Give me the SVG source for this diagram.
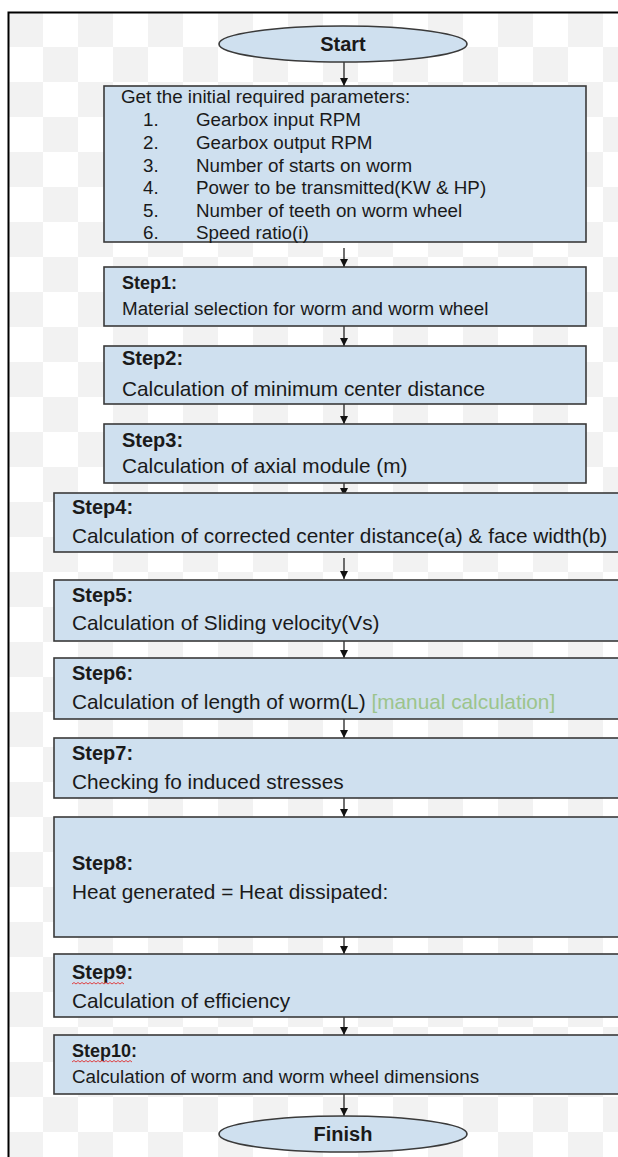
<svg xmlns="http://www.w3.org/2000/svg" width="618" height="1157" viewBox="0 0 618 1157">
<style>
.box{fill:#cfe0ef;stroke:#3a3a3a;stroke-width:1.6}
.t{font-family:"Liberation Sans",Arial,sans-serif;fill:#1a1a1a}
.lbl{font-weight:bold}
.s18{font-size:18px}.s19{font-size:18.8px}.s20{font-size:20px}.s21{font-size:20.8px}
.con{stroke:#111;stroke-width:1.2;fill:none}
.sq{stroke:#e03030;stroke-width:0.9;fill:none}
</style>
<defs>
<pattern id="chk" x="8" y="12" width="70" height="70" patternUnits="userSpaceOnUse">
<rect width="70" height="70" fill="#ffffff"/>
<rect width="35" height="35" fill="#f2f2f2"/>
<rect x="35" y="35" width="35" height="35" fill="#f2f2f2"/>
</pattern>
<marker id="ah" viewBox="0 0 10 10" refX="10" refY="5" markerWidth="8" markerHeight="9" markerUnits="userSpaceOnUse" orient="auto">
<path d="M0,0 L10,5 L0,10 z" fill="#111"/>
</marker>
</defs>
<rect width="618" height="1157" fill="#ffffff"/>
<rect x="9" y="13" width="609" height="1144" fill="url(#chk)"/>
<path d="M8.5,1157 V12.5 H618" stroke="#000" stroke-width="2" fill="none"/>

<g id="connectors">
<line class="con" x1="344" y1="62" x2="344" y2="86" marker-end="url(#ah)"/>
<line class="con" x1="344" y1="248" x2="344" y2="267" marker-end="url(#ah)"/>
<line class="con" x1="344" y1="326" x2="344" y2="346" marker-end="url(#ah)"/>
<line class="con" x1="344" y1="404" x2="344" y2="424" marker-end="url(#ah)"/>
<line class="con" x1="344" y1="483" x2="344" y2="496" marker-end="url(#ah)"/>
<line class="con" x1="344" y1="558" x2="344" y2="579" marker-end="url(#ah)"/>
<line class="con" x1="344" y1="641" x2="344" y2="658" marker-end="url(#ah)"/>
<line class="con" x1="344" y1="719" x2="344" y2="738" marker-end="url(#ah)"/>
<line class="con" x1="344" y1="798" x2="344" y2="817" marker-end="url(#ah)"/>
<line class="con" x1="344" y1="937" x2="344" y2="954" marker-end="url(#ah)"/>
<line class="con" x1="344" y1="1017" x2="344" y2="1035" marker-end="url(#ah)"/>
<line class="con" x1="344" y1="1094" x2="344" y2="1116" marker-end="url(#ah)"/>
</g>

<g id="start">
<ellipse class="box" cx="343" cy="44" rx="124" ry="18"/>
<text class="t lbl s20" x="343" y="51" text-anchor="middle">Start</text>
</g>

<g id="params">
<rect class="box" x="104" y="86" width="482" height="156"/>
<text class="t s19" x="121" y="103">Get the initial required parameters:</text>
<text class="t s19" x="143" y="126">1.</text><text class="t s19" x="196" y="126">Gearbox input RPM</text>
<text class="t s19" x="143" y="149">2.</text><text class="t s19" x="196" y="149">Gearbox output RPM</text>
<text class="t s19" x="143" y="172">3.</text><text class="t s19" x="196" y="172">Number of starts on worm</text>
<text class="t s19" x="143" y="194">4.</text><text class="t s19" x="196" y="194">Power to be transmitted(KW &amp; HP)</text>
<text class="t s19" x="143" y="217">5.</text><text class="t s19" x="196" y="217">Number of teeth on worm wheel</text>
<text class="t s19" x="143" y="239">6.</text><text class="t s19" x="196" y="239">Speed ratio(i)</text>
</g>

<g id="step1">
<rect class="box" x="104" y="267" width="482" height="59"/>
<text class="t lbl s18" x="122" y="289">Step1:</text>
<text class="t s19" x="122" y="315">Material selection for worm and worm wheel</text>
</g>

<g id="step2">
<rect class="box" x="104" y="346" width="482" height="58"/>
<text class="t lbl s20" x="122" y="365">Step2:</text>
<text class="t s21" x="122" y="396">Calculation of minimum center distance</text>
</g>

<g id="step3">
<rect class="box" x="104" y="424" width="482" height="59"/>
<text class="t lbl s20" x="122" y="447">Step3:</text>
<text class="t s21" x="122" y="473">Calculation of axial module (m)</text>
</g>

<g id="step4">
<rect class="box" x="54" y="493" width="600" height="59"/>
<text class="t lbl s20" x="72" y="514">Step4:</text>
<text class="t s21" x="72" y="543">Calculation of corrected center distance(a) &amp; face width(b)</text>
</g>

<g id="step5">
<rect class="box" x="54" y="580" width="600" height="61"/>
<text class="t lbl s20" x="72" y="602">Step5:</text>
<text class="t s21" x="72" y="630">Calculation of Sliding velocity(Vs)</text>
</g>

<g id="step6">
<rect class="box" x="54" y="658" width="600" height="61"/>
<text class="t lbl s20" x="72" y="680">Step6:</text>
<text class="t s21" x="72" y="709">Calculation of length of worm(L) <tspan fill="#9cc48c">[manual calculation]</tspan></text>
</g>

<g id="step7">
<rect class="box" x="54" y="738" width="600" height="60"/>
<text class="t lbl s20" x="72" y="760">Step7:</text>
<text class="t s21" x="72" y="789">Checking fo induced stresses</text>
</g>

<g id="step8">
<rect class="box" x="54" y="817" width="600" height="120"/>
<text class="t lbl s20" x="72" y="870">Step8:</text>
<text class="t s21" x="72" y="899">Heat generated = Heat dissipated:</text>
</g>

<g id="step9">
<rect class="box" x="54" y="954" width="600" height="63"/>
<text class="t lbl s20" x="72" y="979">Step9:</text>
<path class="sq" d="M72,984 l2,-1.5 l2,1.5 l2,-1.5 l2,1.5 l2,-1.5 l2,1.5 l2,-1.5 l2,1.5 l2,-1.5 l2,1.5 l2,-1.5 l2,1.5 l2,-1.5 l2,1.5 l2,-1.5 l2,1.5 l2,-1.5 l2,1.5 l2,-1.5 l2,1.5 l2,-1.5 l2,1.5 l2,-1.5 l2,1.5 l2,-1.5 l2,1.5"/>
<text class="t s21" x="72" y="1008">Calculation of efficiency</text>
</g>

<g id="step10">
<rect class="box" x="54" y="1035" width="600" height="59"/>
<text class="t lbl s18" x="72" y="1057">Step10:</text>
<path class="sq" d="M72,1062 l2,-1.5 l2,1.5 l2,-1.5 l2,1.5 l2,-1.5 l2,1.5 l2,-1.5 l2,1.5 l2,-1.5 l2,1.5 l2,-1.5 l2,1.5 l2,-1.5 l2,1.5 l2,-1.5 l2,1.5 l2,-1.5 l2,1.5 l2,-1.5 l2,1.5 l2,-1.5 l2,1.5 l2,-1.5 l2,1.5 l2,-1.5 l2,1.5 l2,-1.5 l2,1.5 l2,-1.5 l2,1.5"/>
<text class="t s19" x="72" y="1083">Calculation of worm and worm wheel dimensions</text>
</g>

<g id="finish">
<ellipse class="box" cx="343" cy="1134" rx="124" ry="18"/>
<text class="t lbl s20" x="343" y="1141" text-anchor="middle">Finish</text>
</g>
</svg>
